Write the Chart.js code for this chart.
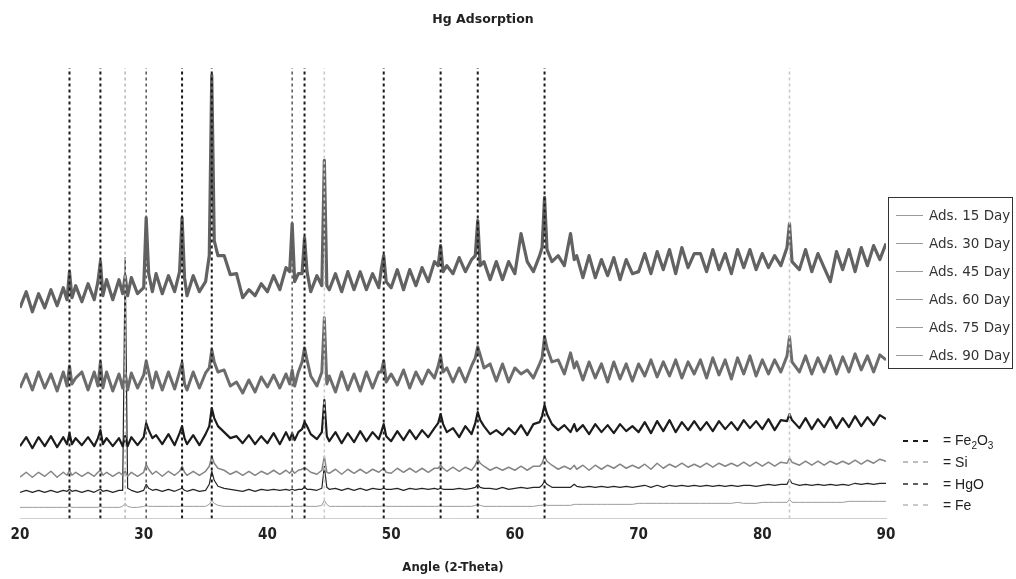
<!DOCTYPE html>
<html>
<head>
<meta charset="utf-8">
<script src="https://cdn.jsdelivr.net/npm/chart.js@4.4.1/dist/chart.umd.min.js"></script>
<style>
  html, body { margin: 0; padding: 0; background: #fff; }
  #cadre { position: relative; width: 1016px; height: 579px; overflow: hidden; background: #fff; }
  #graphique { position: absolute; left: 0; top: 0; }
  #titre {
    position: absolute; left: 383px; width: 200px; top: 11px; text-align: center;
    font: bold 12.5px "DejaVu Sans", sans-serif; color: #222;
  }
  #legende {
    position: absolute; left: 888px; top: 197px; width: 125px; height: 172px;
    border: 1px solid #333; box-sizing: border-box; background: #fff;
  }
  #legende .ligne { position: absolute; left: 0; height: 16px; display: flex; align-items: center; }
  #legende .trait { width: 27px; height: 1px; background: #9a9a9a; margin-left: 7px; margin-right: 6px; }
  #legende .texte { font: 13.5px "DejaVu Sans", sans-serif; color: #333; white-space: nowrap; }
  #cle { position: absolute; left: 903px; top: 432px; }
  #cle .ligne { position: absolute; left: 0; height: 18px; display: flex; align-items: center; white-space: nowrap; }
  #cle .tirets { display: flex; width: 30px; margin-right: 10px; }
  #cle .tirets span { width: 6px; height: 2px; margin-right: 5px; }
  #cle .texte { font: 14px "Liberation Sans", sans-serif; color: #222; }
</style>
</head>
<body>
<div id="cadre">
  <canvas id="graphique" width="1016" height="579"></canvas>
  <div id="titre">Hg Adsorption</div>
  <div id="legende"></div>
  <div id="cle"></div>
</div>
<script>
// Angles 2-theta (grille de 0.5° + points autour des pics)
const ANGLES = [
  20, 20.5, 21, 21.5, 22, 22.5, 23, 23.5, 23.8, 24, 24.2, 24.5,
  25, 25.5, 26, 26.3, 26.5, 26.7, 27, 27.5, 28, 28.3, 28.5, 28.7, 29, 29.5,
  30, 30.2, 30.4, 30.7, 31, 31.5, 32, 32.5, 32.9, 33.1, 33.3, 33.5, 34, 34.5,
  35, 35.3, 35.5, 35.7, 36, 36.5, 37, 37.5, 38, 38.5, 39, 39.5,
  40, 40.5, 41, 41.5, 41.8, 42, 42.2, 42.5, 42.8, 43, 43.2, 43.5, 44, 44.4, 44.6, 44.8,
  45, 45.5, 46, 46.5, 47, 47.5, 48, 48.5, 49, 49.2, 49.4, 49.6,
  50, 50.5, 51, 51.5, 52, 52.5, 53, 53.5, 53.8, 54, 54.2, 54.5,
  55, 55.5, 56, 56.5, 56.8, 57, 57.2, 57.5, 58, 58.5, 59, 59.5,
  60, 60.5, 61, 61.5, 62, 62.2, 62.4, 62.6, 63, 63.5, 64, 64.5, 64.8,
  65, 65.5, 66, 66.5, 67, 67.5, 68, 68.5, 69, 69.5,
  70, 70.5, 71, 71.5, 72, 72.5, 73, 73.5, 74, 74.5,
  75, 75.5, 76, 76.5, 77, 77.5, 78, 78.5, 79, 79.5,
  80, 80.5, 81, 81.5, 82, 82.2, 82.4, 83, 83.5, 84, 84.5,
  85, 85.5, 86, 86.5, 87, 87.5, 88, 88.5, 89, 89.5, 90,
];

const ADS_15 = [
  210, 226, 206, 224, 210, 228, 212, 230, 218, 246, 220, 232,
  216, 234, 218, 236, 256, 222, 238, 218, 238, 224, 242, 222, 240, 224,
  230, 300, 244, 226, 244, 224, 242, 226, 246, 300, 240, 222, 242, 226,
  236, 262, 442, 277, 262, 262, 243, 244, 220, 228, 222, 234,
  226, 242, 228, 250, 246, 294, 236, 244, 244, 280, 246, 226, 242, 232, 357, 232,
  228, 244, 226, 246, 228, 246, 228, 244, 230, 248, 262, 236,
  230, 248, 228, 248, 232, 250, 236, 256, 252, 272, 246, 252,
  244, 260, 246, 258, 262, 297, 252, 256, 238, 256, 238, 256,
  244, 284, 256, 246, 262, 270, 320, 268, 256, 262, 252, 284, 258,
  262, 240, 262, 240, 258, 242, 260, 238, 258, 244,
  246, 264, 244, 266, 248, 268, 244, 270, 250, 264,
  264, 246, 268, 248, 264, 244, 268, 250, 268, 248,
  264, 250, 262, 252, 270, 294, 256, 248, 268, 246, 264,
  250, 236, 266, 248, 268, 246, 270, 252, 272, 258, 274,
];

const ADS_30 = [
  130, 144, 128, 146, 130, 144, 127, 146, 132, 152, 134, 140,
  146, 128, 146, 132, 156, 130, 146, 127, 144, 130, 146, 128, 145, 130,
  143, 157, 146, 130, 146, 128, 146, 129, 146, 155, 134, 128, 146, 130,
  145, 150, 168, 156, 146, 148, 132, 136, 125, 138, 126, 141,
  131, 143, 130, 144, 134, 148, 132, 146, 156, 170, 158, 142, 132, 146, 200, 134,
  142, 126, 146, 128, 144, 127, 146, 130, 146, 146, 157, 136,
  144, 133, 148, 130, 146, 134, 148, 140, 152, 162, 146, 150,
  136, 150, 136, 152, 160, 171, 163, 150, 154, 137, 154, 136,
  150, 144, 148, 140, 154, 160, 181, 170, 156, 158, 144, 165, 150,
  156, 138, 156, 140, 154, 136, 156, 139, 154, 137,
  154, 142, 158, 141, 156, 142, 158, 140, 156, 144,
  158, 140, 160, 143, 158, 139, 160, 144, 162, 142,
  158, 144, 158, 146, 162, 181, 156, 146, 162, 144, 160,
  146, 162, 144, 161, 146, 164, 148, 162, 146, 163, 158,
];

const ADS_45 = [
  72, 81, 70, 81, 72, 82, 71, 81, 74, 85, 74, 80,
  73, 81, 72, 80, 88, 74, 80, 72, 80, 72, 82, 72, 81, 73,
  81, 95, 88, 80, 83, 74, 84, 73, 85, 92, 80, 74, 83, 73,
  84, 92, 110, 100, 92, 86, 80, 82, 75, 83, 74, 82,
  75, 85, 74, 86, 78, 85, 78, 86, 89, 96, 92, 84, 79, 86, 118, 82,
  77, 86, 75, 85, 76, 87, 77, 86, 79, 86, 94, 82,
  77, 87, 78, 88, 79, 88, 81, 90, 95, 104, 94, 86,
  90, 81, 92, 84, 95, 106, 98, 92, 84, 88, 83, 90,
  84, 93, 83, 94, 96, 102, 113, 104, 94, 88, 93, 86, 94,
  87, 93, 84, 94, 86, 93, 85, 94, 87, 92,
  86, 96, 85, 97, 87, 98, 86, 96, 88, 97,
  88, 96, 87, 97, 89, 96, 88, 98, 90, 97,
  89, 99, 88, 98, 97, 104, 98, 90, 100, 89, 99,
  91, 101, 90, 100, 91, 102, 92, 101, 93, 103, 99,
];

const ADS_60 = [
  41, 46, 41, 46, 42, 47, 41, 46, 43, 48, 43, 46,
  42, 46, 42, 46, 48, 43, 46, 42, 46, 43, 47, 42, 46, 42,
  46, 54, 49, 44, 47, 42, 47, 43, 47, 52, 46, 43, 47, 43,
  47, 52, 62, 55, 50, 48, 44, 47, 43, 47, 43, 47,
  44, 48, 44, 48, 45, 48, 45, 48, 49, 51, 49, 46, 44, 48, 62, 46,
  45, 49, 44, 49, 45, 49, 45, 49, 46, 48, 50, 46,
  45, 50, 46, 50, 46, 50, 46, 50, 50, 53, 50, 47,
  51, 47, 51, 48, 53, 59, 55, 52, 48, 51, 48, 51,
  48, 52, 48, 52, 52, 55, 62, 57, 53, 49, 52, 49, 53,
  49, 53, 48, 53, 49, 53, 50, 54, 50, 53,
  50, 54, 49, 55, 50, 54, 51, 55, 51, 54,
  51, 55, 51, 55, 52, 55, 52, 56, 52, 56,
  52, 56, 52, 56, 55, 60, 56, 53, 57, 53, 57,
  53, 57, 54, 57, 54, 58, 54, 58, 55, 59, 57,
];

const ADS_75 = [
  26, 28, 26, 28, 26, 28, 26, 28, 27, 29, 27, 28,
  26, 28, 26, 28, 29, 27, 28, 26, 28, 28, 260, 30, 28, 26,
  28, 34, 30, 28, 29, 27, 29, 27, 29, 30, 28, 27, 29, 27,
  28, 34, 47, 38, 32, 30, 29, 28, 27, 29, 27, 29,
  28, 29, 28, 29, 28, 29, 28, 29, 29, 31, 29, 29, 28, 30, 52, 31,
  29, 30, 28, 30, 28, 30, 28, 30, 29, 29, 30, 29,
  29, 30, 28, 30, 29, 30, 29, 30, 29, 30, 29, 29,
  29, 30, 29, 30, 31, 34, 31, 30, 30, 29, 31, 29,
  30, 31, 30, 31, 31, 33, 37, 34, 31, 31, 31, 31, 34,
  32, 31, 32, 31, 32, 31, 32, 31, 32, 31,
  32, 33, 31, 33, 31, 33, 32, 33, 32, 33,
  32, 33, 32, 33, 32, 33, 32, 33, 33, 32,
  33, 34, 33, 34, 34, 39, 35, 33, 34, 33, 34,
  33, 34, 33, 34, 33, 35, 34, 35, 34, 35, 35,
];

const ADS_90 = [
  11, 11, 11, 11, 11, 11, 11, 11, 11, 12, 11, 11,
  11, 11, 11, 11, 12, 11, 11, 11, 11, 12, 15, 12, 11, 11,
  12, 13, 12, 12, 12, 12, 12, 12, 12, 13, 12, 12, 12, 12,
  12, 14, 18, 15, 13, 12, 12, 12, 12, 12, 12, 12,
  12, 12, 12, 12, 12, 13, 12, 12, 12, 13, 12, 12, 12, 13, 18, 14,
  12, 12, 12, 12, 12, 12, 12, 12, 12, 12, 13, 12,
  12, 12, 12, 12, 12, 12, 12, 12, 12, 13, 12, 12,
  12, 12, 12, 12, 13, 14, 13, 12, 12, 12, 12, 12,
  12, 12, 12, 12, 13, 13, 15, 13, 13, 13, 13, 13, 14,
  14, 14, 14, 14, 14, 14, 14, 14, 14, 14,
  15, 15, 15, 15, 15, 15, 15, 15, 15, 15,
  15, 15, 15, 15, 15, 15, 16, 15, 15, 15,
  16, 16, 16, 16, 16, 19, 16, 16, 16, 16, 16,
  16, 16, 16, 16, 17, 17, 17, 17, 17, 17, 17,
];

const LIBELLES_SERIES = ['Ads. 15 Day', 'Ads. 30 Day', 'Ads. 45 Day', 'Ads. 60 Day', 'Ads. 75 Day', 'Ads. 90 Day'];
const VALEURS_SERIES = [ADS_15, ADS_30, ADS_45, ADS_60, ADS_75, ADS_90];
const COULEURS_SERIES = ['#626262', '#6c6c6c', '#1c1c1c', '#858585', '#262626', '#9c9c9c'];
const EPAISSEURS_SERIES = [3.2, 3, 2.2, 1.5, 1.2, 1];

// Positions des raies de référence (2-theta)
const PICS_FE2O3 = [24.0, 26.5, 33.1, 35.5, 43.0, 49.4, 54.0, 57.0, 62.4];
const PICS_SI = [28.5];
const PICS_HGO = [30.2, 42.0];
const PICS_FE = [44.6, 82.2];

const LIBELLES_PHASES = ['Fe₂O₃', 'Si', 'HgO', 'Fe'];
const PICS_PHASES = [PICS_FE2O3, PICS_SI, PICS_HGO, PICS_FE];
const COULEURS_PHASES = ['#1a1a1a', '#bdbdbd', '#5e5e5e', '#c9c9c9'];

const GRADUATIONS_X = [20, 30, 40, 50, 60, 70, 80, 90];

const Y_BAS_RAIE = 0;
const Y_HAUT_RAIE = 449;

VALEURS_SERIES.forEach((v, i) => {
  if (v.length !== ANGLES.length) console.error('Série', LIBELLES_SERIES[i], v.length, ANGLES.length);
});

function construirePoints(valeurs) {
  return ANGLES.map((angle, i) => ({ x: angle, y: valeurs[i] }));
}

function construireRaies(pics) {
  const points = [];
  pics.forEach((p) => {
    points.push({ x: p, y: Y_BAS_RAIE }, { x: p, y: Y_HAUT_RAIE }, { x: p, y: null });
  });
  return points;
}

const jeuxRaies = PICS_PHASES.map((pics, i) => ({
  label: LIBELLES_PHASES[i],
  data: construireRaies(pics),
  borderColor: COULEURS_PHASES[i],
  borderWidth: i === 0 ? 2 : 1.6,
  borderDash: [3, 3],
  pointRadius: 0,
  spanGaps: false,
  tension: 0,
}));

const jeuxSeries = VALEURS_SERIES.map((valeurs, i) => ({
  label: LIBELLES_SERIES[i],
  data: construirePoints(valeurs),
  borderColor: COULEURS_SERIES[i],
  borderWidth: EPAISSEURS_SERIES[i],
  borderJoinStyle: 'round',
  pointRadius: 0,
  tension: 0,
}));

Chart.defaults.font.family = '"DejaVu Sans", sans-serif';
Chart.defaults.color = '#222';

new Chart(document.getElementById('graphique'), {
  type: 'line',
  data: { datasets: [...jeuxRaies, ...jeuxSeries] },
  options: {
    responsive: false,
    animation: false,
    devicePixelRatio: 1,
    layout: { padding: { left: 20, right: 130, top: 60, bottom: 4 } },
    plugins: {
      legend: { display: false },
      tooltip: { enabled: false },
      title: { display: false },
    },
    scales: {
      x: {
        type: 'linear',
        min: 20,
        max: 90,
        afterBuildTicks: (axe) => { axe.ticks = GRADUATIONS_X.map((v) => ({ value: v })); },
        grid: { display: false, drawTicks: false },
        border: { display: true, color: '#cfcfcf', width: 1 },
        ticks: {
          padding: 8,
          font: { family: '"DejaVu Sans Condensed", "DejaVu Sans", sans-serif', size: 15, weight: 'bold' },
          color: '#222',
        },
        title: {
          display: true,
          text: 'Angle (2-Theta)',
          padding: { top: 7, bottom: 0 },
          font: { family: '"DejaVu Sans Condensed", "DejaVu Sans", sans-serif', size: 13, weight: 'bold' },
          color: '#222',
        },
      },
      y: {
        display: false,
        min: 0,
        max: 457,
      },
    },
  },
});

// Légende des séries (encadrée à droite)
const legende = document.getElementById('legende');
LIBELLES_SERIES.forEach((libelle, i) => {
  const ligne = document.createElement('div');
  ligne.className = 'ligne';
  ligne.style.top = (9 + i * 28) + 'px';
  ligne.innerHTML = '<div class="trait"></div><div class="texte">' + libelle + '</div>';
  legende.appendChild(ligne);
});

// Clé des raies de référence
const cle = document.getElementById('cle');
LIBELLES_PHASES.forEach((libelle, i) => {
  const ligne = document.createElement('div');
  ligne.className = 'ligne';
  ligne.style.top = [0, 21, 43, 64][i] + 'px';
  const c = COULEURS_PHASES[i];
  const texte = libelle === 'Fe₂O₃' ? 'Fe<sub style="font-size:10px">2</sub>O<sub style="font-size:10px">3</sub>' : libelle;
  ligne.innerHTML = '<div class="tirets"><span style="background:' + c + '"></span><span style="background:' + c +
    '"></span><span style="background:' + c + '"></span></div><div class="texte">= ' + texte + '</div>';
  cle.appendChild(ligne);
});
</script>
</body>
</html>
